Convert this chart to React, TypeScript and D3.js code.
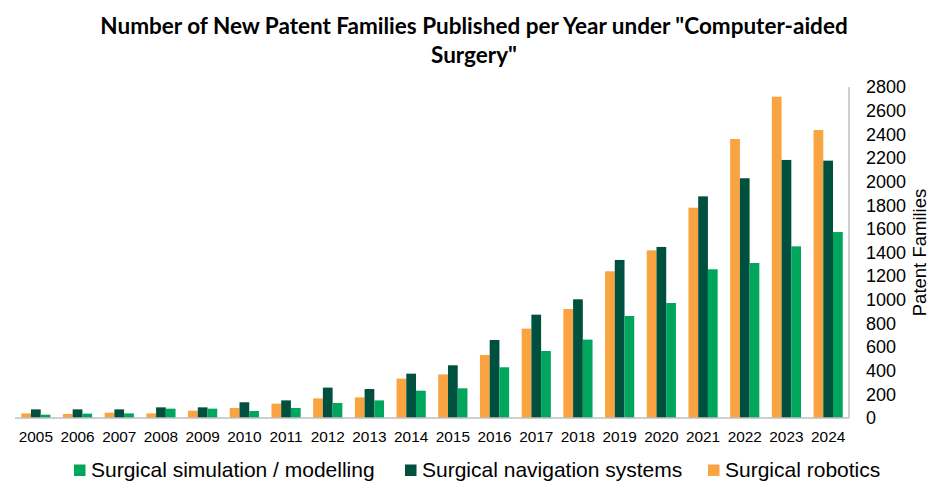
import React from 'react';
import * as d3 from 'd3';

const years = ['2005', '2006', '2007', '2008', '2009', '2010', '2011', '2012', '2013', '2014',
  '2015', '2016', '2017', '2018', '2019', '2020', '2021', '2022', '2023', '2024'];

const robotics = [39, 34, 45, 39, 62, 85, 121, 166, 175, 333, 369, 533, 756, 922, 1241, 1418, 1779, 2360, 2718, 2436];
const navigation = [73, 73, 73, 90, 90, 133, 149, 257, 245, 375, 446, 660, 874, 1004, 1337, 1447, 1875, 2028, 2183, 2177];
const simulation = [28, 37, 39, 79, 79, 59, 85, 127, 149, 231, 251, 429, 567, 663, 863, 973, 1258, 1311, 1452, 1573];

const yTicks = [0, 200, 400, 600, 800, 1000, 1200, 1400, 1600, 1800, 2000, 2200, 2400, 2600, 2800];

const seriesNames = ['Surgical robotics', 'Surgical navigation systems', 'Surgical simulation / modelling'];
const seriesColors = ['#F9A440', '#00503F', '#00A65B'];

// legend shows the series in reverse order
const legendOrder = [2, 1, 0];
const legendSquares = [74, 405, 708];

const W = 949;
const H = 494;

const App: React.FC = () => {
  const x = d3.scaleBand<string>()
    .domain(years)
    .range([15, 849])
    .paddingInner(0.3)
    .paddingOuter(0.15);

  const x1 = d3.scaleBand<number>()
    .domain([0, 1, 2])
    .range([0, x.bandwidth()]);

  const y = d3.scaleLinear().domain([0, 2800]).range([418, 87]);

  const series = [robotics, navigation, simulation];
  const axisFont = 'Arial, "Liberation Sans", sans-serif';

  return (
    <svg width={W} height={H} style={{ position: 'absolute', left: 0, top: 0, background: '#fff' }}>
      <g fontFamily='Lato, "Open Sans", sans-serif' fontWeight="bold" fontSize={22.5} textAnchor="middle" fill="#000">
        <text x={474} y={34}>Number of New Patent Families Published per Year under "Computer-aided</text>
        <text x={474} y={63}>Surgery"</text>
      </g>

      {years.map((yr, i) => (
        <g key={yr} transform={`translate(${x(yr)},0)`}>
          {series.map((vals, si) => (
            <rect
              key={si}
              x={x1(si)}
              y={y(vals[i])}
              width={x1.bandwidth()}
              height={y(0) - y(vals[i])}
              fill={seriesColors[si]}
            />
          ))}
        </g>
      ))}

      <line x1={15} x2={849} y1={y(0)} y2={y(0)} stroke="#BFBFBF" strokeWidth={1.5} />
      <line x1={849} x2={849} y1={y(2800)} y2={y(0)} stroke="#BFBFBF" strokeWidth={1.5} />

      <g fontFamily={axisFont} fontSize={15.4} textAnchor="middle" fill="#000">
        {years.map((yr) => (
          <text key={yr} x={(x(yr) as number) + x.bandwidth() / 2} y={442}>{yr}</text>
        ))}
      </g>

      <g fontFamily={axisFont} fontSize={18} fill="#000">
        {yTicks.map((t) => (
          <text key={t} x={866} y={y(t)} dy="0.35em">{t}</text>
        ))}
      </g>

      <text
        transform="translate(926,252.5) rotate(-90)"
        textAnchor="middle"
        fontFamily={axisFont}
        fontSize={18.5}
        fill="#000"
      >
        Patent Families
      </text>

      <g fontFamily={axisFont} fontSize={21} fill="#000">
        {legendOrder.map((si, k) => (
          <g key={si}>
            <rect x={legendSquares[k]} y={464.5} width={11.5} height={11.5} fill={seriesColors[si]} />
            <text x={legendSquares[k] + 17} y={477}>{seriesNames[si]}</text>
          </g>
        ))}
      </g>
    </svg>
  );
};

export default App;
